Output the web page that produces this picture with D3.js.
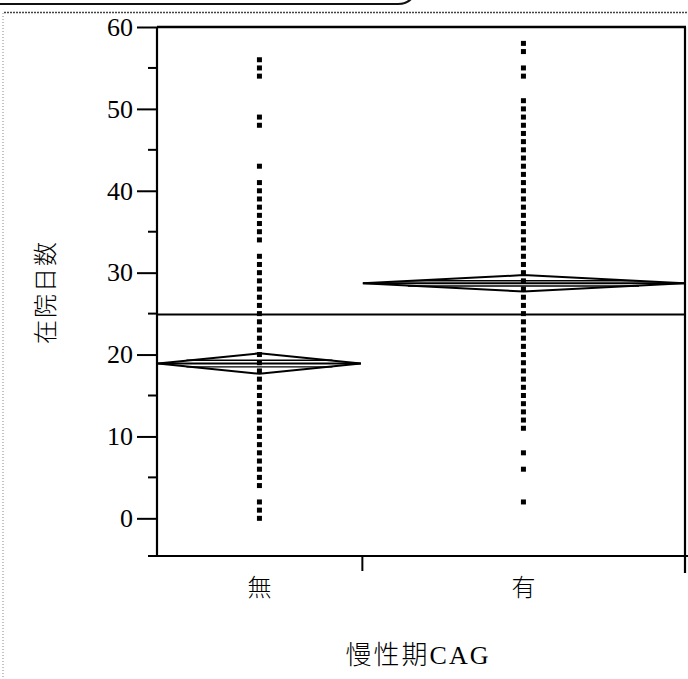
<!DOCTYPE html>
<html>
<head>
<meta charset="utf-8">
<script src="https://cdn.jsdelivr.net/npm/d3@7"></script>
<style>
  html, body { margin: 0; padding: 0; background: #fff; }
  svg { display: block; }
</style>
</head>
<body>
<svg id="chart" width="688" height="679"></svg>
<script>
// ---- data ----
const categories = ["無", "有"];
const groupCounts = [97, 153];             // relative sample sizes (x widths)
const groupMeans = [18.9, 28.7];
const groupCIHalf = [1.25, 1.0];
const grandMean = 24.9;
const valuesNo = [0, 1, 2, 4, 5, 6, 7, 8, 9, 10, 11, 12, 13, 14, 15, 16, 17, 18, 19, 20, 21,
  22, 23, 24, 25, 26, 27, 28, 29, 30, 31, 32, 34, 35, 36, 37, 38, 39, 40, 41, 43, 48, 49, 54, 55, 56];
const valuesYes = [2, 6, 8, 11, 12, 13, 14, 15, 16, 17, 18, 19, 20, 21, 22, 23, 24, 25, 26, 27, 28,
  29, 30, 31, 32, 33, 34, 35, 36, 37, 38, 39, 40, 41, 42, 43, 44, 45, 46, 47, 48, 49, 50, 51, 54, 55, 57, 58];
const majorTicks = [0, 10, 20, 30, 40, 50, 60];
const minorTicks = [5, 15, 25, 35, 45, 55];
const yTitle = "在院日数";
const xTitle = "慢性期CAG";

// ---- layout ----
const L = 157, R = 685, T = 27, B = 556;
const svg = d3.select("#chart");

const total = d3.sum(groupCounts);
const x = d3.scaleLinear().domain([0, total]).range([L, R]);
const y = d3.scaleLinear().domain([-4.6, 60]).range([B, T]);

const starts = [0, groupCounts[0]];
const groups = categories.map((c, i) => ({
  name: c,
  x0: starts[i],
  x1: starts[i] + groupCounts[i],
  xc: starts[i] + groupCounts[i] / 2,
  mean: groupMeans[i],
  ci: groupCIHalf[i],
  values: i === 0 ? valuesNo : valuesYes
}));

// scan decorations (page frame)
svg.append("path")
  .attr("d", "M0,4 L398,4 Q410,4 414,-6")
  .attr("fill", "none").attr("stroke", "#111").attr("stroke-width", 2.2);
svg.append("line").attr("x1", 4).attr("x2", 688).attr("y1", 12.5).attr("y2", 12.5)
  .attr("stroke", "#444").attr("stroke-width", 1.5).attr("stroke-dasharray", "2,1");
svg.append("line").attr("x1", 3).attr("x2", 3).attr("y1", 13).attr("y2", 679)
  .attr("stroke", "#888").attr("stroke-width", 1).attr("stroke-dasharray", "1,2");

// frame
const frame = svg.append("g").attr("stroke", "#000").attr("fill", "none");
frame.append("line").attr("x1", L).attr("x2", R + 1).attr("y1", T).attr("y2", T).attr("stroke-width", 2.5);
frame.append("line").attr("x1", R).attr("x2", R).attr("y1", T).attr("y2", B + 17).attr("stroke-width", 2.2);
frame.append("line").attr("x1", 148).attr("x2", 688).attr("y1", B).attr("y2", B).attr("stroke-width", 2.2);

// y axis
const yAxis = d3.axisLeft(y).tickValues(majorTicks).tickSize(20).tickPadding(4).tickFormat(d3.format("d"));
const gy = svg.append("g").attr("transform", `translate(${L},0)`).call(yAxis);
gy.select(".domain").attr("d", `M0,${T}V${B}`).attr("stroke-width", 2.2);
gy.selectAll(".tick line").attr("stroke-width", 2);
gy.selectAll(".tick text").attr("font-family", "'Liberation Serif', serif").attr("font-size", 26).attr("fill", "#000");
gy.selectAll(".minor").data(minorTicks).enter().append("line")
  .attr("class", "minor").attr("x1", -9).attr("x2", 0)
  .attr("y1", d => y(d)).attr("y2", d => y(d))
  .attr("stroke", "#000").attr("stroke-width", 2);

// x axis: boundary tick between groups + category labels
const xAxis = d3.axisBottom(x).tickValues([groupCounts[0]]).tickSize(15).tickFormat("");
const gx = svg.append("g").attr("transform", `translate(0,${B})`).call(xAxis);
gx.select(".domain").remove();
gx.selectAll(".tick line").attr("stroke-width", 2);

svg.selectAll(".cat").data(groups).enter().append("text")
  .attr("class", "cat")
  .attr("x", d => x(d.xc)).attr("y", 596)
  .attr("text-anchor", "middle")
  .attr("font-family", "'Noto Sans CJK JP', sans-serif").attr("font-size", 24).attr("font-weight", 300)
  .text(d => d.name);

// grand mean line
svg.append("line").attr("x1", L).attr("x2", R).attr("y1", y(grandMean)).attr("y2", y(grandMean))
  .attr("stroke", "#000").attr("stroke-width", 2);

// points
groups.forEach(g => {
  svg.append("g").selectAll("rect").data(g.values).enter().append("rect")
    .attr("x", x(g.xc) - 2.5).attr("y", d => y(d) - 2.5)
    .attr("width", 5).attr("height", 5).attr("fill", "#000");
});

// means diamonds
groups.forEach(g => {
  const xl = x(g.x0) + 1, xr = x(g.x1) - 1, xm = x(g.xc);
  const ym = y(g.mean), yt = y(g.mean + g.ci), yb = y(g.mean - g.ci);
  svg.append("path")
    .attr("d", `M${xl},${ym} L${xm},${yt} L${xr},${ym} L${xm},${yb} Z`)
    .attr("fill", "none").attr("stroke", "#000").attr("stroke-width", 2);
  svg.append("line").attr("x1", xl).attr("x2", xr).attr("y1", ym).attr("y2", ym)
    .attr("stroke", "#000").attr("stroke-width", 2);
  const ov = g.ci * 0.32;
  const hw = (xr - xl) / 2 * 0.72;
  [g.mean + ov, g.mean - ov].forEach(v => {
    svg.append("line").attr("x1", xm - hw).attr("x2", xm + hw).attr("y1", y(v)).attr("y2", y(v))
      .attr("stroke", "#000").attr("stroke-width", 1.4);
  });
});

// titles
svg.append("text")
  .attr("transform", "translate(54,292) rotate(-90)")
  .attr("text-anchor", "middle")
  .attr("font-family", "'Noto Sans CJK JP', sans-serif").attr("font-size", 24).attr("font-weight", 300)
  .attr("letter-spacing", 2)
  .text(yTitle);

const xt = svg.append("text")
  .attr("x", 418).attr("y", 664).attr("text-anchor", "middle")
  .attr("font-size", 26).attr("letter-spacing", 2);
xt.append("tspan").attr("font-family", "'Noto Sans CJK JP', sans-serif").attr("font-weight", 300).text(xTitle.slice(0, 3));
xt.append("tspan").attr("font-family", "'Liberation Serif', serif").text(xTitle.slice(3));
</script>
</body>
</html>
